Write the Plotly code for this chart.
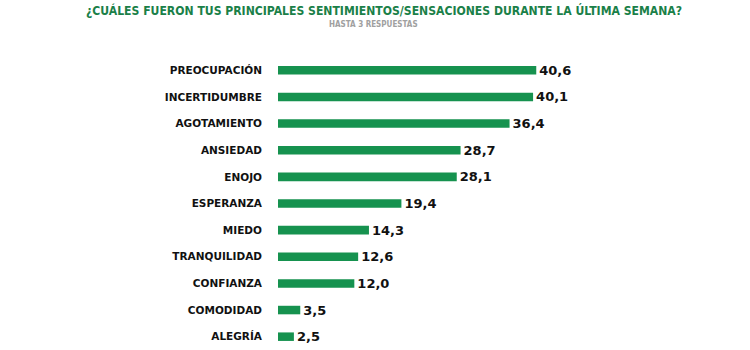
import plotly.graph_objects as go

categories = ["PREOCUPACIÓN", "INCERTIDUMBRE", "AGOTAMIENTO", "ANSIEDAD", "ENOJO",
              "ESPERANZA", "MIEDO", "TRANQUILIDAD", "CONFIANZA", "COMODIDAD", "ALEGRÍA"]
values = [40.6, 40.1, 36.4, 28.7, 28.1, 19.4, 14.3, 12.6, 12.0, 3.5, 2.5]
value_labels = ["40,6", "40,1", "36,4", "28,7", "28,1", "19,4", "14,3", "12,6", "12,0", "3,5", "2,5"]

title_text = "¿CUÁLES FUERON TUS PRINCIPALES SENTIMIENTOS/SENSACIONES DURANTE LA ÚLTIMA SEMANA?"
subtitle_text = "HASTA 3 RESPUESTAS"

GREEN = "#16924f"

fig = go.Figure(go.Bar(
    x=values, y=categories, orientation="h",
    marker=dict(color=GREEN, line=dict(width=0)),
    width=0.32,
    text=value_labels, textposition="outside", constraintext="none",
    textfont=dict(family="DejaVu Sans", size=13, color="#111111", weight="bold"),
    cliponaxis=False,
))

L, T = 278, 57
fig.update_layout(
    width=750, height=350,
    margin=dict(l=L, r=0, t=T, b=0),
    paper_bgcolor="white", plot_bgcolor="white",
    showlegend=False,
    xaxis=dict(range=[0, 74.2], visible=False, fixedrange=True),
    yaxis=dict(
        categoryorder="array", categoryarray=categories,
        range=[10.5, -0.5], showgrid=False, zeroline=False, showline=False,
        ticks="", ticklabelstandoff=15,
        tickfont=dict(family="DejaVu Sans", size=10.5, color="#111111", weight="bold"),
    ),
)

pw = 750 - L
ph = 350 - T
def px2paper(px, py):
    return (px - L) / pw, 1 + (T - py) / ph

tx, ty = px2paper(384, 10)
sx, sy = px2paper(373, 24)
fig.add_annotation(text="<b>" + title_text + "</b>", xref="paper", yref="paper",
                   x=tx, y=ty, showarrow=False, xanchor="center", yanchor="middle",
                   font=dict(family="DejaVu Sans Condensed", size=12.1, color="#1a8048"))
fig.add_annotation(text="<b>" + subtitle_text + "</b>", xref="paper", yref="paper",
                   x=sx, y=sy, showarrow=False, xanchor="center", yanchor="middle",
                   font=dict(family="DejaVu Sans Condensed", size=8, color="#a0a0a0"))

fig.write_html("out.html")
